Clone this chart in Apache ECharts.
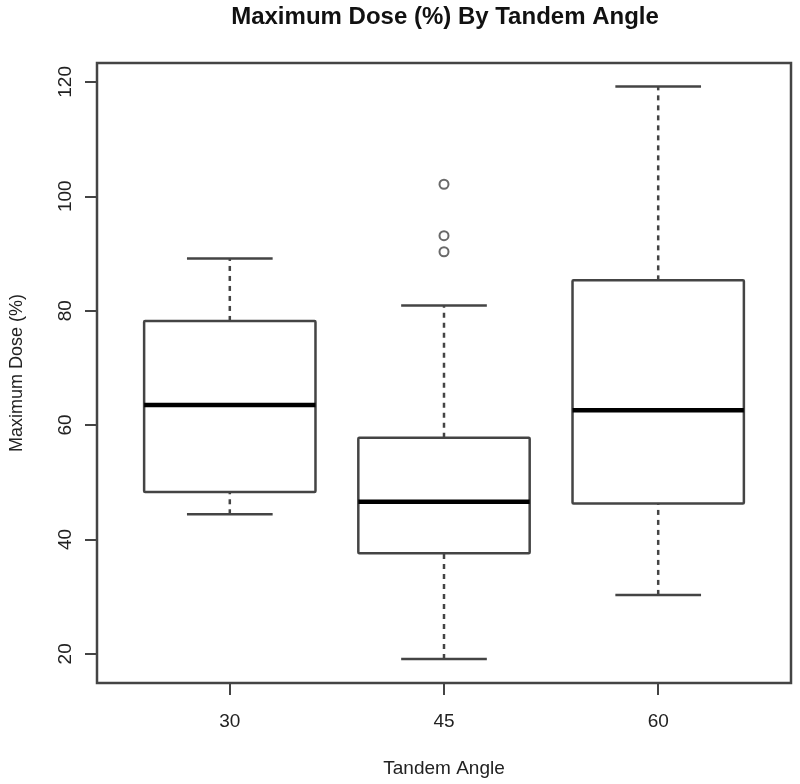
<!DOCTYPE html>
<html>
<head>
<meta charset="utf-8">
<script src="https://cdn.jsdelivr.net/npm/echarts@6/dist/echarts.min.js"></script>
<style>
    html, body { margin: 0; padding: 0; background: #fff; }
    #chart { width: 800px; height: 784px; }
</style>
</head>
<body>
<div id="chart"></div>
<script>
    // tandem angle groups and their box positions on the x scale
    var angles = ['30', '45', '60'];
    var positions = [1, 2, 3];

    // five-number summaries
    var lowerWhisker = [44.4, 19.1, 30.3];
    var q1 = [48.3, 37.6, 46.3];
    var median = [63.5, 46.6, 62.6];
    var q3 = [78.2, 57.8, 85.3];
    var upperWhisker = [89.1, 80.9, 119.2];

    // outliers of the 45 degree group
    var outliers45 = [102.1, 93.1, 90.3];

    var yTicks = [20, 40, 60, 80, 100, 120];

    var boxData = positions.map(function (p, i) {
        return [p, lowerWhisker[i], q1[i], median[i], q3[i], upperWhisker[i]];
    });
    var outlierData = outliers45.map(function (v) { return [2, v]; });

    var lineColor = '#444';
    var font = 'Liberation Sans, Arial, sans-serif';

    function renderBox(params, api) {
        var x = api.value(0);
        var halfBox = 0.4, halfCap = 0.2;
        var pLo = api.coord([x, api.value(1)]);
        var pQ1 = api.coord([x, api.value(2)]);
        var pMed = api.coord([x, api.value(3)]);
        var pQ3 = api.coord([x, api.value(4)]);
        var pHi = api.coord([x, api.value(5)]);
        var left = api.coord([x - halfBox, 0])[0];
        var right = api.coord([x + halfBox, 0])[0];
        var capL = api.coord([x - halfCap, 0])[0];
        var capR = api.coord([x + halfCap, 0])[0];
        var dashed = { stroke: lineColor, lineWidth: 2.5, lineDash: [5, 5] };
        var solid = { stroke: lineColor, lineWidth: 2.5 };
        return {
            type: 'group',
            children: [
                { type: 'line', shape: { x1: pQ3[0], y1: pQ3[1], x2: pHi[0], y2: pHi[1] }, style: dashed },
                { type: 'line', shape: { x1: pLo[0], y1: pLo[1], x2: pQ1[0], y2: pQ1[1] }, style: dashed },
                { type: 'line', shape: { x1: capL, y1: pHi[1], x2: capR, y2: pHi[1] }, style: solid },
                { type: 'line', shape: { x1: capL, y1: pLo[1], x2: capR, y2: pLo[1] }, style: solid },
                {
                    type: 'rect',
                    shape: { x: left, y: pQ3[1], width: right - left, height: pQ1[1] - pQ3[1], r: 1 },
                    style: { fill: '#fff', stroke: lineColor, lineWidth: 2.5 }
                },
                { type: 'line', shape: { x1: left, y1: pMed[1], x2: right, y2: pMed[1] }, style: { stroke: '#000', lineWidth: 4.5 } }
            ]
        };
    }

    var chart = echarts.init(document.getElementById('chart'));
    chart.setOption({
        backgroundColor: '#fff',
        animation: false,
        title: {
            text: 'Maximum Dose (%) By Tandem Angle',
            left: 440,
            textAlign: 'center',
            top: 0,
            textStyle: { fontFamily: font, fontSize: 24, fontWeight: 'bold', color: '#111' }
        },
        grid: {
            left: 97,
            right: 9,
            top: 63,
            bottom: 101,
            show: true,
            borderColor: lineColor,
            borderWidth: 2.5,
            backgroundColor: 'transparent'
        },
        xAxis: {
            type: 'value',
            min: 0.38,
            max: 3.62,
            name: 'Tandem Angle',
            nameLocation: 'middle',
            nameGap: 76,
            nameTextStyle: { fontFamily: font, fontSize: 19, color: '#222' },
            axisLine: { show: false },
            splitLine: { show: false },
            axisTick: { show: true, length: 12, customValues: positions, lineStyle: { color: lineColor, width: 2 } },
            axisLabel: {
                customValues: positions,
                margin: 29,
                fontFamily: font,
                fontSize: 19,
                color: '#222',
                formatter: function (v) { return angles[positions.indexOf(v)]; }
            }
        },
        yAxis: {
            type: 'value',
            min: 14.9,
            max: 123.3,
            name: 'Maximum Dose (%)',
            nameLocation: 'middle',
            nameGap: 71,
            nameTextStyle: { fontFamily: font, fontSize: 18, color: '#222' },
            axisLine: { show: false },
            splitLine: { show: false },
            axisTick: { show: true, length: 12, customValues: yTicks, lineStyle: { color: lineColor, width: 2 } },
            axisLabel: {
                customValues: yTicks,
                rotate: 90,
                margin: 22,
                fontFamily: font,
                fontSize: 19,
                color: '#222'
            }
        },
        series: [
            {
                type: 'custom',
                renderItem: renderBox,
                data: boxData,
                encode: { x: 0, y: [1, 2, 3, 4, 5] },
                clip: false
            },
            {
                type: 'scatter',
                data: outlierData,
                symbol: 'circle',
                symbolSize: 9,
                itemStyle: { color: '#fff', borderColor: lineColor, borderWidth: 2 }
            }
        ]
    });
</script>
</body>
</html>
